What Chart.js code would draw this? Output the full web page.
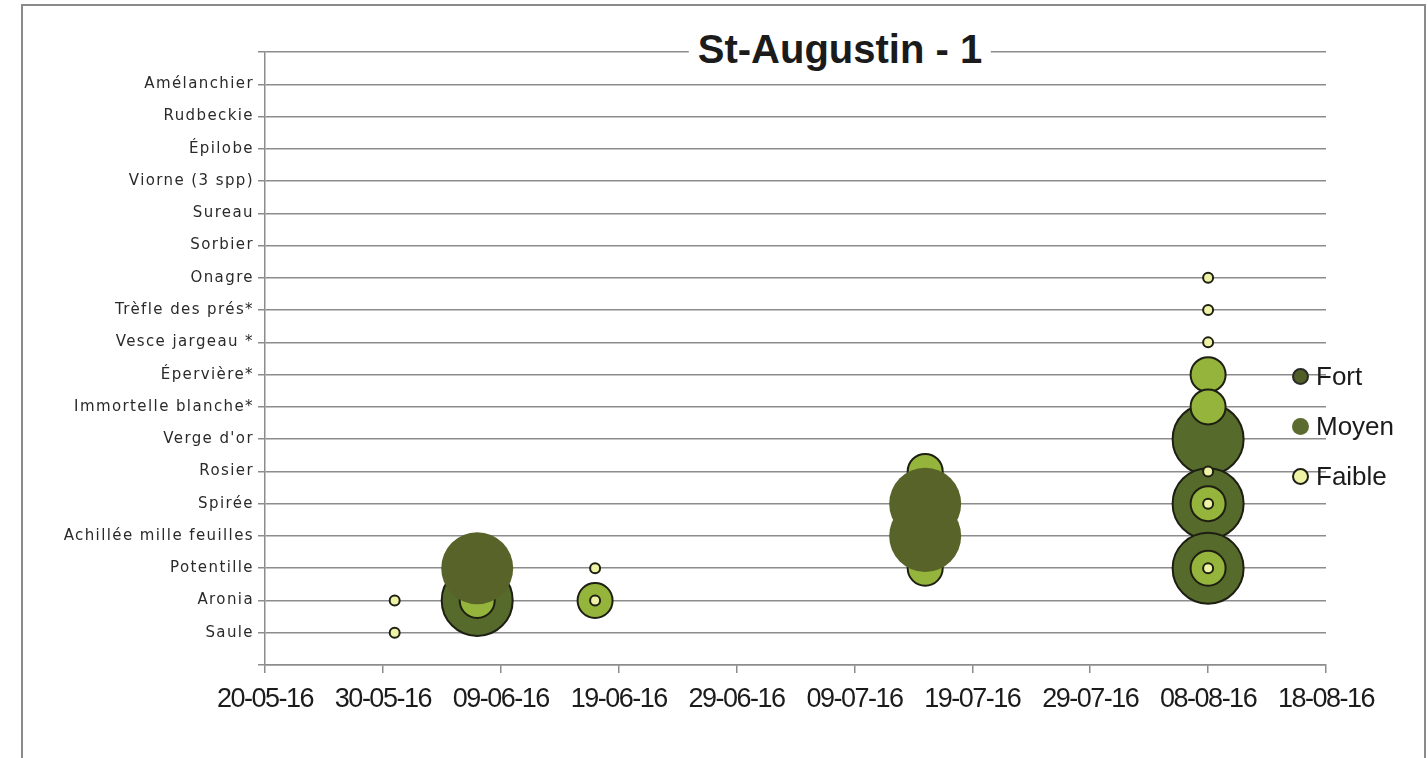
<!DOCTYPE html>
<html lang="fr">
<head>
<meta charset="utf-8">
<title>St-Augustin - 1</title>
<script src="https://cdn.jsdelivr.net/npm/chart.js@4.4.1/dist/chart.umd.min.js"></script>
<style>
    html, body { margin: 0; padding: 0; background: #fff; }
    #wrap { position: relative; width: 1428px; height: 758px; overflow: hidden; }
    #chart { position: absolute; left: 0; top: 0; }
    .frame {
        position: absolute; left: 21px; top: 4px; width: 1401px; height: 820px;
        border: 2px solid #8a8a8a; pointer-events: none;
    }
    .chart-title {
        position: absolute; left: 840px; top: 26px; transform: translateX(-50%);
        background: #fff; padding: 0 9px; white-space: nowrap;
        font: bold 40px "Liberation Sans", Arial, sans-serif; line-height: 46px; color: #1b1b1b;
    }
    .legend {
        position: absolute; left: 1292px; top: 351px;
        font: 26px "Liberation Sans", Arial, sans-serif; color: #1b1b1b;
    }
    .legend-item { height: 50px; display: flex; align-items: center; }
    .legend-dot {
        width: 17px; height: 17px; border-radius: 50%; box-sizing: border-box; margin-right: 7px;
    }
</style>
</head>
<body>
<div id="wrap">
    <canvas id="chart" width="1428" height="758"></canvas>
    <div class="frame"></div>
    <div class="chart-title">St-Augustin - 1</div>
    <div class="legend" id="legend"></div>
</div>
<script>
// ========================================
// Data - species (bottom to top) and observations per level
// ========================================

const species = [
    'Saule', 'Aronia', 'Potentille', 'Achillée mille feuilles', 'Spirée', 'Rosier',
    "Verge d'or", 'Immortelle blanche*', 'Épervière*', 'Vesce jargeau *', 'Trèfle des prés*',
    'Onagre', 'Sorbier', 'Sureau', 'Viorne (3 spp)', 'Épilobe', 'Rudbeckie', 'Amélanchier'
];

const startDate = '2016-05-20';

const fortPoints = [
    ['2016-06-07', 'Aronia'], ['2016-06-07', 'Potentille'],
    ['2016-07-15', 'Spirée'], ['2016-07-15', 'Achillée mille feuilles'],
    ['2016-08-08', "Verge d'or"], ['2016-08-08', 'Spirée'], ['2016-08-08', 'Potentille']
];

const moyenPoints = [
    ['2016-06-07', 'Aronia'], ['2016-06-17', 'Aronia'],
    ['2016-07-15', 'Rosier'], ['2016-07-15', 'Potentille'],
    ['2016-08-08', 'Épervière*'], ['2016-08-08', 'Immortelle blanche*'],
    ['2016-08-08', 'Spirée'], ['2016-08-08', 'Potentille']
];

const faiblePoints = [
    ['2016-05-31', 'Saule'], ['2016-05-31', 'Aronia'],
    ['2016-06-17', 'Aronia'], ['2016-06-17', 'Potentille'],
    ['2016-08-08', 'Onagre'], ['2016-08-08', 'Trèfle des prés*'], ['2016-08-08', 'Vesce jargeau *'],
    ['2016-08-08', 'Rosier'], ['2016-08-08', 'Spirée'], ['2016-08-08', 'Potentille']
];

const seriesNames = ['Fort', 'Moyen', 'Faible'];

// In the original some Fort bubbles are pasted flat over everything else
const flatFort = ['2016-06-07|Potentille', '2016-07-15|Spirée', '2016-07-15|Achillée mille feuilles'];

// ========================================
// Helpers
// ========================================

const DAY = 86400000;
const gridColor = '#8c8c8c';

function dayIndex(iso) {
    return Math.round((Date.parse(iso + 'T00:00:00Z') - Date.parse(startDate + 'T00:00:00Z')) / DAY);
}

function formatTick(value) {
    const d = new Date(Date.parse(startDate + 'T00:00:00Z') + value * DAY);
    const pad = n => String(n).padStart(2, '0');
    return pad(d.getUTCDate()) + '-' + pad(d.getUTCMonth() + 1) + '-' + pad(d.getUTCFullYear() % 100);
}

function toBubbles(points) {
    return points.map(([date, name]) => ({ x: dayIndex(date), y: species.indexOf(name) + 1 }));
}

const isFlat = ([date, name]) => flatFort.includes(date + '|' + name);

// y labels are spaced out, x labels are condensed
const labelSpacing = {
    id: 'labelSpacing',
    beforeDraw(chart) { chart.ctx.letterSpacing = '1.4px'; },
    afterDatasetsDraw(chart) { chart.ctx.letterSpacing = '-1.5px'; },
    afterDraw(chart) { chart.ctx.letterSpacing = '0px'; }
};

// ========================================
// Chart
// ========================================

const colors = { Fort: '#566a2b', Moyen: '#94b43c', Faible: '#eef2a5' };
const radii = { Fort: 35.5, Moyen: 17.5, Faible: 5 };
const outline = '#1d1f12';

const datasets = [
    {
        label: 'Fort',
        data: toBubbles(fortPoints.filter(p => !isFlat(p))),
        backgroundColor: colors.Fort, borderColor: outline, borderWidth: 2,
        radius: radii.Fort, hoverRadius: 0, order: 4
    },
    {
        label: 'Moyen',
        data: toBubbles(moyenPoints),
        backgroundColor: colors.Moyen, borderColor: outline, borderWidth: 2,
        radius: radii.Moyen, hoverRadius: 0, order: 3
    },
    {
        label: 'Fort',
        data: toBubbles(fortPoints.filter(isFlat)),
        backgroundColor: '#58632a', borderWidth: 0,
        radius: radii.Fort + 0.5, hoverRadius: 0, order: 2
    },
    {
        label: 'Faible',
        data: toBubbles(faiblePoints),
        backgroundColor: colors.Faible, borderColor: outline, borderWidth: 2,
        radius: radii.Faible, hoverRadius: 0, order: 1
    }
];

new Chart(document.getElementById('chart'), {
    type: 'bubble',
    data: { datasets },
    options: {
        responsive: false,
        animation: false,
        events: [],
        layout: { padding: { left: 0, top: 52, right: 102, bottom: 0 } },
        plugins: {
            legend: { display: false },
            tooltip: { enabled: false }
        },
        scales: {
            x: {
                type: 'linear',
                min: 0,
                max: 90,
                afterFit(scale) { scale.height = 93; },
                border: { color: gridColor, width: 1.5 },
                grid: { drawOnChartArea: false, tickLength: 8, color: gridColor, lineWidth: 1.5 },
                ticks: {
                    z: 1,
                    stepSize: 10,
                    autoSkip: false,
                    maxRotation: 0,
                    padding: 10,
                    color: '#1b1b1b',
                    font: { family: '"Liberation Sans", Arial, sans-serif', size: 27 },
                    callback: v => formatTick(v)
                }
            },
            y: {
                type: 'linear',
                min: 0,
                max: 19,
                afterFit(scale) { scale.width = 265; },
                border: { color: gridColor, width: 1.5 },
                grid: { color: gridColor, lineWidth: 1.5, tickLength: 7 },
                ticks: {
                    stepSize: 1,
                    autoSkip: false,
                    padding: 4,
                    color: '#2a2a2a',
                    font: { family: '"DejaVu Sans", sans-serif', size: 15 },
                    callback: v => species[v - 1] || ''
                }
            }
        }
    },
    plugins: [labelSpacing]
});

// Legend sits inside the plot on the right, like the original
const legendDots = {
    Fort:   { bg: '#4f5f27', border: '2px solid #2a2a2a' },
    Moyen:  { bg: '#5c6b30', border: 'none' },
    Faible: { bg: '#eef2a5', border: '2px solid #1d1f12' }
};
document.getElementById('legend').innerHTML = seriesNames.map(name => `
    <div class="legend-item">
        <span class="legend-dot" style="background:${legendDots[name].bg};border:${legendDots[name].border}"></span>
        <span>${name}</span>
    </div>
`).join('');
</script>
</body>
</html>
